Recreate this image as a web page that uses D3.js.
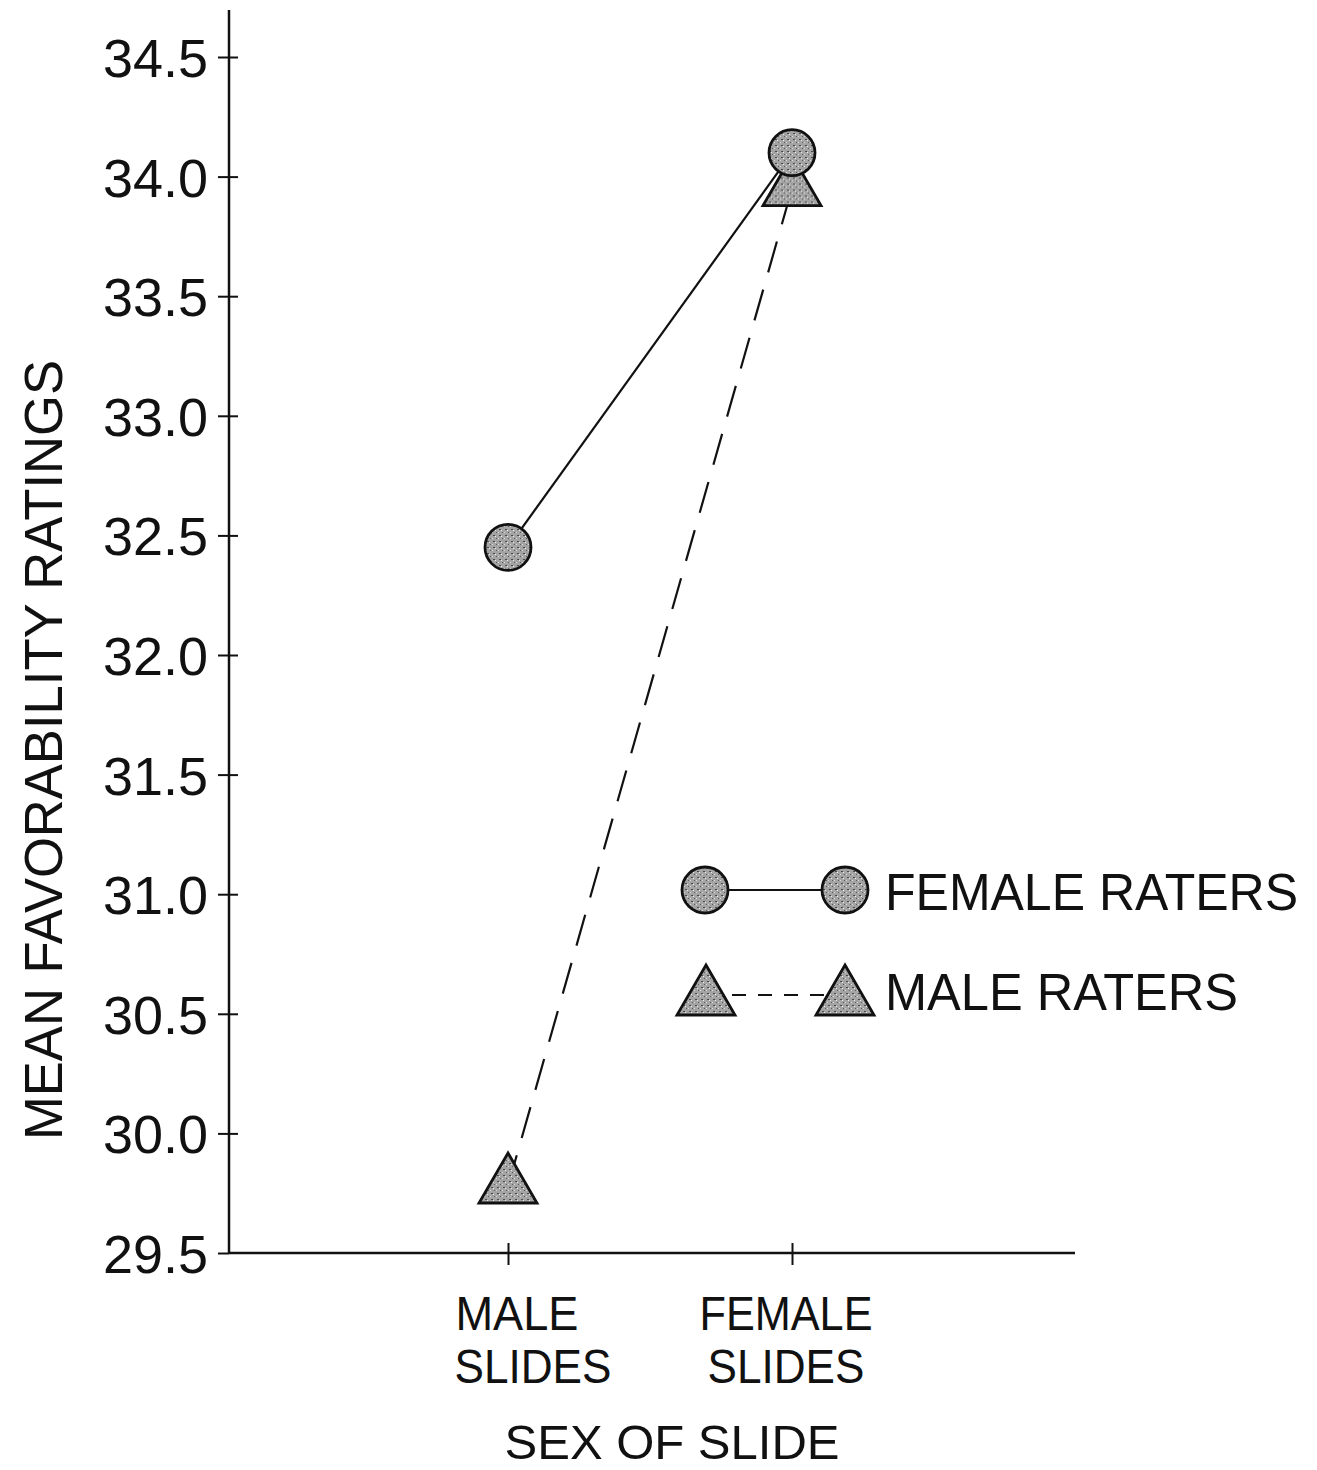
<!DOCTYPE html>
<html>
<head>
<meta charset="utf-8">
<script src="https://cdn.jsdelivr.net/npm/d3@7"></script>
<style>
  html, body { margin: 0; background: #fff; overflow: hidden; }
  svg { display: block; }
  text { font-family: "Liberation Sans", Arial, sans-serif; fill: #111; }
</style>
</head>
<body>
<svg id="chart" width="1317" height="1470"></svg>
<script>
// data
var slides = ["MALE SLIDES", "FEMALE SLIDES"];
var femaleRaters = [32.45, 34.1];
var maleRaters = [29.78, 33.95];
var yTicks = [29.5, 30.0, 30.5, 31.0, 31.5, 32.0, 32.5, 33.0, 33.5, 34.0, 34.5];

var svg = d3.select("#chart"),
    x0 = 229, xEnd = 1075, yTop = 10;

var y = d3.scaleLinear().domain([29.5, 34.5]).range([1253, 57]);
var x = d3.scalePoint().domain(slides).range([508, 792]);

// grainy grey fill of the markers
var stipple = svg.append("defs").append("pattern")
    .attr("id", "stip").attr("patternUnits", "userSpaceOnUse")
    .attr("width", 6).attr("height", 6);
stipple.append("rect").attr("width", 6).attr("height", 6).attr("fill", "#a4a4a4");
stipple.append("rect").attr("x", 1).attr("y", 1).attr("width", 2).attr("height", 1).attr("fill", "#4a4a4a");
stipple.append("rect").attr("x", 4).attr("y", 4).attr("width", 1).attr("height", 1).attr("fill", "#5a5a5a");
stipple.append("rect").attr("x", 3).attr("y", 2).attr("width", 1).attr("height", 1).attr("fill", "#eee");
stipple.append("rect").attr("x", 0).attr("y", 4).attr("width", 1).attr("height", 1).attr("fill", "#ddd");

// y axis
var yAxis = svg.append("g").attr("transform", "translate(" + x0 + ",0)")
    .call(d3.axisLeft(y).tickValues(yTicks).tickFormat(d3.format(".1f"))
        .tickSizeInner(11).tickSizeOuter(0).tickPadding(8));
yAxis.select(".domain").remove();
yAxis.selectAll(".tick line").attr("x1", 9).attr("stroke", "#111").attr("stroke-width", 2);
yAxis.selectAll(".tick text").style("font-size", "54px").attr("dy", "0.36em").attr("x", -21)
    .attr("textLength", 105).attr("lengthAdjust", "spacingAndGlyphs");
yAxis.selectAll(".tick").filter(function (d) { return d === 29.5; }).select("line").attr("x1", 0);

svg.append("line").attr("x1", x0).attr("x2", x0).attr("y1", yTop).attr("y2", y(29.5))
    .attr("stroke", "#111").attr("stroke-width", 2.5);

// x axis
var xAxis = svg.append("g").attr("transform", "translate(0," + y(29.5) + ")")
    .call(d3.axisBottom(x).tickSizeInner(12).tickSizeOuter(0).tickFormat(""));
xAxis.select(".domain").remove();
xAxis.selectAll(".tick line").attr("y1", -10).attr("stroke", "#111").attr("stroke-width", 2);
svg.append("line").attr("x1", x0).attr("x2", xEnd).attr("y1", y(29.5)).attr("y2", y(29.5))
    .attr("stroke", "#111").attr("stroke-width", 2.5);

var labelW = { "MALE": 123, "FEMALE": 173, "SLIDES": 157 };
var labelShift = [[9, 25], [-6, -6]];
slides.forEach(function (s, i) {
    var parts = s.split(" ");
    svg.append("text").attr("x", x(s) + labelShift[i][0]).attr("y", 1330).attr("text-anchor", "middle")
        .style("font-size", "49px").attr("textLength", labelW[parts[0]])
        .attr("lengthAdjust", "spacingAndGlyphs").text(parts[0]);
    svg.append("text").attr("x", x(s) + labelShift[i][1]).attr("y", 1383).attr("text-anchor", "middle")
        .style("font-size", "49px").attr("textLength", labelW[parts[1]])
        .attr("lengthAdjust", "spacingAndGlyphs").text(parts[1]);
});
svg.append("text").attr("x", 672).attr("y", 1459).attr("text-anchor", "middle")
    .style("font-size", "48px").attr("textLength", 335).attr("lengthAdjust", "spacingAndGlyphs")
    .text("SEX OF SLIDE");

svg.append("text").attr("transform", "translate(62,750) rotate(-90)").attr("text-anchor", "middle")
    .style("font-size", "54px").attr("textLength", 780).attr("lengthAdjust", "spacingAndGlyphs")
    .text("MEAN FAVORABILITY RATINGS");

// lines
var line = d3.line().x(function (d, i) { return x(slides[i]); }).y(function (d) { return y(d); });
svg.append("path").datum(femaleRaters).attr("d", line)
    .attr("fill", "none").attr("stroke", "#111").attr("stroke-width", 2.2);
svg.append("path").datum(maleRaters).attr("d", line)
    .attr("fill", "none").attr("stroke", "#111").attr("stroke-width", 2.2)
    .attr("stroke-dasharray", "32,18");

function tri(g) {
    g.attr("d", "M0,-33L29,17L-29,17Z").attr("fill", "url(#stip)")
        .attr("stroke", "#111").attr("stroke-width", 2.8).attr("stroke-linejoin", "miter");
}
function circ(g) {
    g.attr("r", 23).attr("fill", "url(#stip)").attr("stroke", "#111").attr("stroke-width", 2.8);
}

svg.selectAll(".tri").data(maleRaters).enter().append("path").attr("class", "tri")
    .attr("transform", function (d, i) { return "translate(" + x(slides[i]) + "," + y(d) + ")"; })
    .call(tri);
svg.selectAll(".circ").data(femaleRaters).enter().append("circle").attr("class", "circ")
    .attr("cx", function (d, i) { return x(slides[i]); })
    .attr("cy", function (d) { return y(d); })
    .call(circ);

// legend
var leg = svg.append("g");
leg.append("line").attr("x1", 705).attr("x2", 845).attr("y1", 890).attr("y2", 890)
    .attr("stroke", "#111").attr("stroke-width", 2.2);
leg.append("circle").attr("cx", 705).attr("cy", 890).call(circ);
leg.append("circle").attr("cx", 845).attr("cy", 890).call(circ);
leg.append("text").attr("x", 885).attr("y", 910).style("font-size", "51px")
    .attr("textLength", 413).attr("lengthAdjust", "spacingAndGlyphs").text("FEMALE RATERS");

leg.append("line").attr("x1", 706).attr("x2", 845).attr("y1", 995).attr("y2", 995)
    .attr("stroke", "#111").attr("stroke-width", 2.2).attr("stroke-dasharray", "14,12");
leg.append("path").attr("transform", "translate(706,998)").call(tri);
leg.append("path").attr("transform", "translate(845,998)").call(tri);
leg.append("text").attr("x", 885).attr("y", 1010).style("font-size", "51px")
    .attr("textLength", 353).attr("lengthAdjust", "spacingAndGlyphs").text("MALE RATERS");
</script>
</body>
</html>
